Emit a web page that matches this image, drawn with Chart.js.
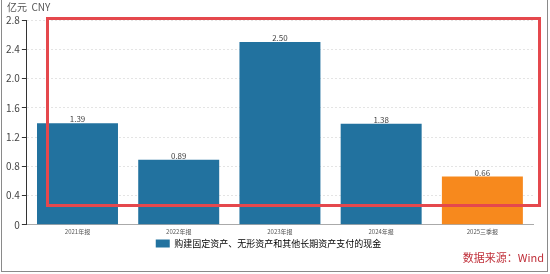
<!DOCTYPE html>
<html><head><meta charset="utf-8">
<script src="https://cdn.jsdelivr.net/npm/chart.js@4/dist/chart.umd.min.js"></script>
<style>html,body{margin:0;padding:0;background:#fff}#wrap{width:550px;height:274px;position:relative}</style>
</head><body><div id="wrap"><canvas id="c" width="550" height="274"></canvas></div>
<script>
const categories = ['2021年报','2022年报','2023年报','2024年报','2025三季报'];
const values = [1.39, 0.89, 2.50, 1.38, 0.66];
const seriesName = '购建固定资产、无形资产和其他长期资产支付的现金';
const unitLabel = '亿元  CNY';
const sourceLabel = '数据来源：Wind';
const BLUE = '#22729f', ORANGE = '#f7891d';
const font = '"Microsoft YaHei","Noto Sans CJK SC","DejaVu Sans",sans-serif';

const deco = {
  id: 'deco',
  afterDatasetsDraw(chart) {
    const ctx = chart.ctx;
    const meta = chart.getDatasetMeta(0);
    ctx.save();
    ctx.fillStyle = '#444';
    ctx.font = '8px ' + font;
    ctx.textAlign = 'center';
    ctx.textBaseline = 'bottom';
    meta.data.forEach((bar, i) => {
      ctx.fillText(values[i].toFixed(2), bar.x, bar.y);
    });
    ctx.restore();
  },
  afterDraw(chart) {
    const ctx = chart.ctx;
    ctx.save();
    ctx.fillStyle = '#555';
    ctx.font = '10px ' + font;
    ctx.textAlign = 'left';
    ctx.textBaseline = 'middle';
    ctx.fillText(unitLabel, 7, 7);
    ctx.fillStyle = '#c0303a';
    ctx.font = '11px ' + font;
    ctx.textAlign = 'right';
    ctx.fillText(sourceLabel, 544, 258);
    ctx.strokeStyle = '#e5484d';
    ctx.lineWidth = 3;
    ctx.strokeRect(47.5, 18.5, 492, 187);
    ctx.strokeStyle = '#8a8a8a';
    ctx.lineWidth = 1;
    ctx.strokeRect(1.5, -1, 546, 272.5);
    ctx.restore();
  }
};

new Chart(document.getElementById('c'), {
  type: 'bar',
  data: {
    labels: categories,
    datasets: [{
      label: seriesName,
      data: values,
      backgroundColor: values.map((v, i) => i === values.length - 1 ? ORANGE : BLUE),
      categoryPercentage: 1,
      barPercentage: 0.8
    }]
  },
  options: {
    responsive: false,
    animation: false,
    devicePixelRatio: 1,
    layout: { padding: { left: 4, right: 17, top: 20, bottom: 16 } },
    plugins: {
      legend: {
        position: 'bottom',
        labels: {
          boxWidth: 14, boxHeight: 8, padding: 4,
          color: '#444',
          font: { size: 9, family: font },
          generateLabels: () => [{ text: seriesName, fillStyle: BLUE, strokeStyle: BLUE, lineWidth: 0 }]
        }
      },
      tooltip: { enabled: false }
    },
    scales: {
      x: {
        grid: { display: false, drawTicks: true, tickLength: 3, color: '#666' },
        border: { color: '#aaa' },
        ticks: { color: '#555', font: { size: 6, family: font }, padding: 0, maxRotation: 0 }
      },
      y: {
        min: 0, max: 2.8,
        ticks: { stepSize: 0.4, color: '#444', font: { size: 10, family: font }, padding: 2 },
        grid: { color: '#e4e4e4', tickLength: 5, tickColor: '#333' },
        border: { color: '#333', dash: [2,2] }
      }
    }
  },
  plugins: [deco]
});
</script></body></html>
